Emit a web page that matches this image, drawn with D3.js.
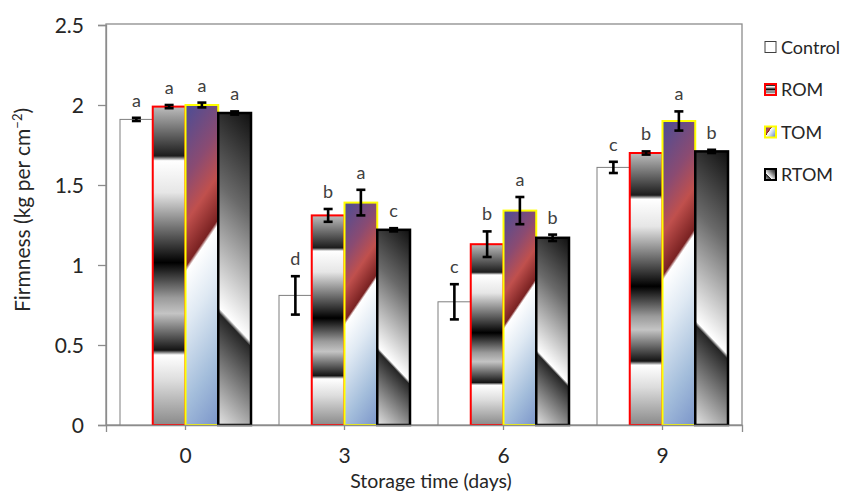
<!DOCTYPE html>
<html>
<head>
<meta charset="utf-8">
<script src="https://cdn.jsdelivr.net/npm/d3@7"></script>
<style>
  body { margin: 0; background: #fff; }
  text { font-family: Lato, 'Open Sans', sans-serif; }
</style>
</head>
<body>
<div class="canvas"></div>
<script>
// data
const days = ['0', '3', '6', '9'];
const treatments = ['Control', 'ROM', 'TOM', 'RTOM'];

const meanControl = [1.91, 0.81, 0.77, 1.61];
const meanROM = [1.99, 1.31, 1.13, 1.70];
const meanTOM = [2.00, 1.39, 1.34, 1.90];
const meanRTOM = [1.95, 1.22, 1.17, 1.71];

const errControl = [0.01, 0.12, 0.11, 0.035];
const errROM = [0.01, 0.04, 0.08, 0.01];
const errTOM = [0.015, 0.08, 0.085, 0.06];
const errRTOM = [0.01, 0.01, 0.02, 0.01];

const lettersControl = ['a', 'd', 'c', 'c'];
const lettersROM = ['a', 'b', 'b', 'b'];
const lettersTOM = ['a', 'a', 'a', 'a'];
const lettersRTOM = ['a', 'c', 'b', 'b'];

const yTicks = [0, 0.5, 1, 1.5, 2, 2.5];

const means = {Control: meanControl, ROM: meanROM, TOM: meanTOM, RTOM: meanRTOM};
const errs = {Control: errControl, ROM: errROM, TOM: errTOM, RTOM: errRTOM};
const letters = {Control: lettersControl, ROM: lettersROM, TOM: lettersTOM, RTOM: lettersRTOM};

const data = [];
days.forEach((day, i) => {
    treatments.forEach(t => {
        data.push({day, t, mean: means[t][i], err: errs[t][i], letter: letters[t][i]});
    });
});

// svg + dimensions
const width = 845, height = 494;
const svg = d3.select('.canvas')
    .append('svg')
        .attr('width', width)
        .attr('height', height);

const plot = {left: 106, right: 742, top: 25, bottom: 425};

const x = d3.scaleBand()
    .domain(days)
    .range([plot.left, plot.right]);

const x1 = d3.scaleBand()
    .domain(treatments)
    .range([14, x.bandwidth() - 14]);

const y = d3.scaleLinear()
    .domain([0, 2.5])
    .range([plot.bottom, plot.top]);

const defs = svg.append('defs');

function addStops(grad, stops) {
    stops.forEach(s => grad.append('stop').attr('offset', s[0]).attr('stop-color', s[1]));
}

const romStops = [
    [0, '#bdbdbd'], [0.155, '#1c1c1c'], [0.17, '#ffffff'], [0.27, '#e6e6e6'],
    [0.49, '#000000'], [0.6, '#9a9a9a'], [0.65, '#c4c4c4'], [0.765, '#141414'],
    [0.78, '#ffffff'], [0.86, '#dddddd'], [1, '#8a8a8a']
];
const tomStops = [
    [0, '#4b4d96'], [0.2, '#8a4b72'], [0.32, '#c0504d'], [0.44, '#7a2222'],
    [0.455, '#ffffff'], [0.6, '#dfe9f3'], [0.82, '#a3bddb'], [1, '#7b95c9']
];
const rtomStops = [
    [0, '#101010'], [0.3, '#6a6a6a'], [0.66, '#ffffff'], [0.675, '#262626'],
    [0.85, '#8c8c8c'], [1, '#e4e4e4']
];

// ROM: horizontal bands, follows the bar box
const romGrad = defs.append('linearGradient')
    .attr('id', 'romGrad')
    .attr('x1', 0).attr('y1', 0).attr('x2', 0).attr('y2', 1);
addStops(romGrad, romStops);

// angled gradient that keeps its angle in pixels
function angleGrad(id, bx, by, bw, bh, dx, dy, stops) {
    const len = Math.hypot(dx, dy);
    dx /= len; dy /= len;
    const corners = [[bx, by], [bx + bw, by], [bx, by + bh], [bx + bw, by + bh]];
    const proj = corners.map(c => c[0] * dx + c[1] * dy);
    const lo = d3.min(proj), hi = d3.max(proj);
    const start = corners[proj.indexOf(lo)];
    const L = hi - lo;
    const g = defs.append('linearGradient')
        .attr('id', id)
        .attr('gradientUnits', 'userSpaceOnUse')
        .attr('x1', start[0]).attr('y1', start[1])
        .attr('x2', start[0] + dx * L).attr('y2', start[1] + dy * L);
    addStops(g, stops);
    return `url(#${id})`;
}

const style = {
    Control: {stroke: '#7f7f7f', sw: 1},
    ROM: {stroke: '#ff0000', sw: 2},
    TOM: {stroke: '#ffff00', sw: 2},
    RTOM: {stroke: '#000000', sw: 2.5}
};

function fillFor(d, i, bx, by, bw, bh) {
    if (d.t === 'Control') return '#ffffff';
    if (d.t === 'ROM') return 'url(#romGrad)';
    if (d.t === 'TOM') return angleGrad('tom' + i, bx, by, bw, bh, 47, 32, tomStops);
    return angleGrad('rtom' + i, bx, by, bw, bh, -34, 32, rtomStops);
}

// plot border
svg.append('rect')
    .attr('x', plot.left)
    .attr('y', plot.top - 1)
    .attr('width', plot.right - plot.left)
    .attr('height', plot.bottom - plot.top + 1)
    .attr('fill', 'none')
    .attr('stroke', '#8c8c8c')
    .attr('stroke-width', 1.3);

// bars
const graph = svg.append('g');
graph.selectAll('rect.bar')
    .data(data)
    .enter()
    .append('rect')
        .attr('class', 'bar')
        .attr('x', d => x(d.day) + x1(d.t))
        .attr('y', d => y(d.mean))
        .attr('width', x1.bandwidth())
        .attr('height', d => y(0) - y(d.mean))
        .attr('fill', (d, i) => fillFor(d, i, x(d.day) + x1(d.t), y(d.mean), x1.bandwidth(), y(0) - y(d.mean)))
        .attr('stroke', d => style[d.t].stroke)
        .attr('stroke-width', d => style[d.t].sw);

// error bars
const cx = d => x(d.day) + x1(d.t) + x1.bandwidth() / 2;
const errG = graph.selectAll('g.err')
    .data(data)
    .enter()
    .append('g')
        .attr('class', 'err')
        .attr('stroke', '#000')
        .attr('stroke-width', 2.6);
errG.append('line')
    .attr('x1', cx).attr('x2', cx)
    .attr('y1', d => y(d.mean + d.err)).attr('y2', d => y(d.mean - d.err));
errG.append('line')
    .attr('x1', d => cx(d) - 4.5).attr('x2', d => cx(d) + 4.5)
    .attr('y1', d => y(d.mean + d.err)).attr('y2', d => y(d.mean + d.err));
errG.append('line')
    .attr('x1', d => cx(d) - 4.5).attr('x2', d => cx(d) + 4.5)
    .attr('y1', d => y(d.mean - d.err)).attr('y2', d => y(d.mean - d.err));

// significance letters
graph.selectAll('text.letter')
    .data(data)
    .enter()
    .append('text')
        .attr('class', 'letter')
        .attr('x', cx)
        .attr('y', d => y(d.mean + d.err) - 11)
        .attr('text-anchor', 'middle')
        .attr('font-size', 18)
        .attr('fill', '#404040')
        .text(d => d.letter);

// axes
const yAxis = d3.axisLeft(y)
    .tickValues(yTicks)
    .tickSize(8)
    .tickPadding(14)
    .tickFormat(d => String(d));
const xAxis = d3.axisBottom(x)
    .tickSize(5)
    .tickSizeOuter(7)
    .tickPadding(18);

const yAxisGroup = svg.append('g')
    .attr('transform', `translate(${plot.left}, 0)`)
    .call(yAxis);
const xAxisGroup = svg.append('g')
    .attr('transform', `translate(0, ${plot.bottom})`)
    .call(xAxis);

[yAxisGroup, xAxisGroup].forEach(g => {
    g.select('.domain').attr('stroke', '#8c8c8c').attr('stroke-width', 1.3);
    g.selectAll('.tick line').attr('stroke', '#8c8c8c').attr('stroke-width', 1.3);
    g.selectAll('.tick text')
        .attr('font-family', 'Lato, sans-serif')
        .attr('font-size', 21)
        .attr('fill', '#262626');
});
yAxisGroup.selectAll('.tick text').attr('dy', '0.36em');

// axis titles
svg.append('text')
    .attr('x', 431)
    .attr('y', 488)
    .attr('text-anchor', 'middle')
    .attr('font-size', 19.5)
    .attr('fill', '#262626')
    .text('Storage time (days)');

const yTitle = svg.append('text')
    .attr('transform', 'translate(30, 210) rotate(-90)')
    .attr('text-anchor', 'middle')
    .attr('font-size', 21)
    .attr('fill', '#262626');
yTitle.append('tspan').text('Firmness (kg per cm');
yTitle.append('tspan').attr('font-size', 13).attr('dy', -8).text('\u22122');
yTitle.append('tspan').attr('dy', 8).text(')');

// legend
const legend = svg.append('g').attr('transform', 'translate(765, 0)');
const legendFill = {
    Control: '#ffffff',
    ROM: 'url(#romGrad)',
    TOM: 'url(#tomLeg)',
    RTOM: 'url(#rtomLeg)'
};
const tomLeg = defs.append('linearGradient').attr('id', 'tomLeg')
    .attr('x1', 0).attr('y1', 0).attr('x2', 1).attr('y2', 0.7);
addStops(tomLeg, tomStops);
const rtomLeg = defs.append('linearGradient').attr('id', 'rtomLeg')
    .attr('x1', 1).attr('y1', 0).attr('x2', 0).attr('y2', 1);
addStops(rtomLeg, rtomStops);

const items = legend.selectAll('g')
    .data(treatments)
    .enter()
    .append('g')
        .attr('transform', (d, i) => `translate(0, ${47.5 + i * 42.5})`);
items.append('rect')
    .attr('x', 0).attr('y', -6)
    .attr('width', 11).attr('height', 11)
    .attr('fill', d => legendFill[d])
    .attr('stroke', d => d === 'Control' ? '#404040' : style[d].stroke)
    .attr('stroke-width', d => d === 'Control' ? 1 : 2);
items.append('text')
    .attr('x', 16)
    .attr('y', 0)
    .attr('dy', '0.35em')
    .attr('font-size', 18)
    .attr('fill', '#262626')
    .text(d => d);
</script>
</body>
</html>
